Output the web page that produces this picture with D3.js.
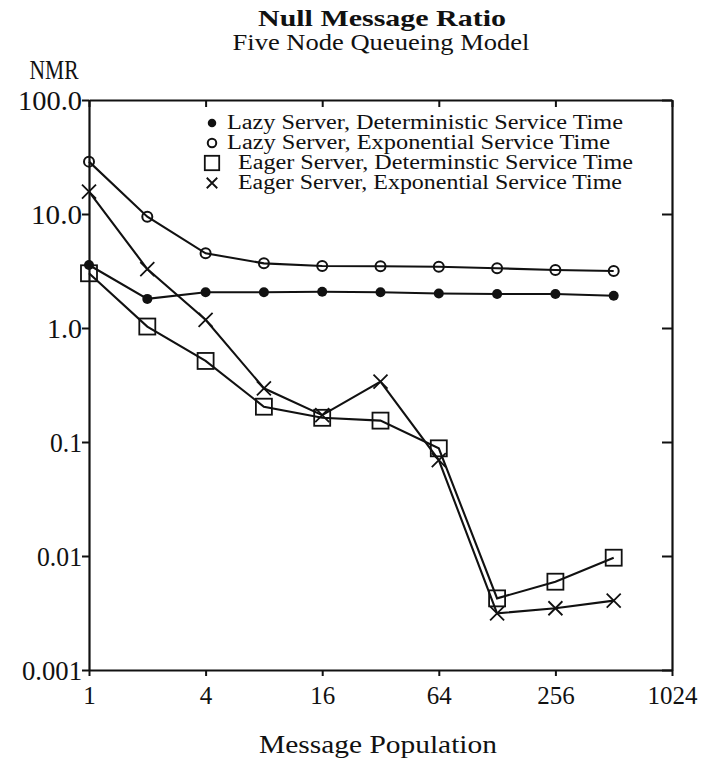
<!DOCTYPE html>
<html>
<head>
<meta charset="utf-8">
<script src="https://cdn.jsdelivr.net/npm/d3@7"></script>
<style>
  html, body { margin: 0; padding: 0; background: #fff; }
  svg { display: block; }
  text { font-family: "Liberation Serif", "Times New Roman", Times, serif; fill: #111; }
</style>
</head>
<body>
<svg id="chart" width="701" height="766"></svg>
<script>
// Message population (x) and null message ratio for each server / service-time combination
const population = [1, 2, 4, 8, 16, 32, 64, 128, 256, 512];
const lazyDeterministic = [3.57, 1.80, 2.06, 2.06, 2.08, 2.06, 2.01, 1.99, 1.99, 1.92];
const lazyExponential = [28.8, 9.47, 4.52, 3.69, 3.50, 3.48, 3.45, 3.34, 3.23, 3.16];
const eagerDeterministic = [3.02, 1.03, 0.514, 0.204, 0.163, 0.154, 0.088, 0.00425, 0.00595, 0.00966];
const eagerExponential = [15.7, 3.29, 1.18, 0.296, 0.172, 0.338, 0.0695, 0.00314, 0.00348, 0.00406];

const xTickValues = [1, 4, 16, 64, 256, 1024];
const xTickLabels = ["1", "4", "16", "64", "256", "1024"];
const yTickValues = [0.001, 0.01, 0.1, 1, 10, 100];
const yTickLabels = ["0.001", "0.01", "0.1", "1.0", "10.0", "100.0"];

const seriesNames = [
  "Lazy Server, Deterministic Service Time",
  "Lazy Server, Exponential Service Time",
  "Eager Server, Determinstic Service Time",
  "Eager Server, Exponential Service Time"
];
const seriesValues = [lazyDeterministic, lazyExponential, eagerDeterministic, eagerExponential];
const seriesMarkers = ["dot", "circle", "square", "cross"];

const svg = d3.select("#chart");
const plotLeft = 89, plotRight = 672, plotTop = 100, plotBottom = 670;

const x = d3.scaleLog().base(2).domain([1, 1024]).range([plotLeft, plotRight]);
const y = d3.scaleLog().domain([0.001, 100]).range([plotBottom, plotTop]);

// Stretch a text element horizontally to a given width
function fit(sel, w) {
  return sel.attr("textLength", w).attr("lengthAdjust", "spacingAndGlyphs");
}

// Titles
fit(svg.append("text").attr("x", 382).attr("y", 26).attr("text-anchor", "middle")
  .attr("font-size", 24).attr("font-weight", "bold").text("Null Message Ratio"), 248);
fit(svg.append("text").attr("x", 381).attr("y", 50).attr("text-anchor", "middle")
  .attr("font-size", 24).text("Five Node Queueing Model"), 297);
fit(svg.append("text").attr("x", 54).attr("y", 79).attr("text-anchor", "middle")
  .attr("font-size", 28).text("NMR"), 49);
fit(svg.append("text").attr("x", 378).attr("y", 753).attr("text-anchor", "middle")
  .attr("font-size", 25).text("Message Population"), 238);

// Axes: labelled bottom/left with outward ticks, mirrored top/right with inward ticks
function styleAxis(g) {
  g.attr("font-size", null).attr("font-family", null);
  g.selectAll("path.domain").attr("stroke", "#111").attr("stroke-width", 2.2);
  g.selectAll(".tick line").attr("stroke", "#111").attr("stroke-width", 2);
  g.selectAll(".tick text").style("font-size", "25px")
    .style("font-family", '"Liberation Serif", "Times New Roman", Times, serif').attr("fill", "#111");
}

svg.append("g").attr("transform", `translate(0,${plotBottom})`)
  .call(d3.axisBottom(x).tickValues(xTickValues).tickSizeInner(6).tickSizeOuter(0).tickPadding(10)
    .tickFormat((d, i) => xTickLabels[i]))
  .call(styleAxis);

// Widths of the y tick labels
const yLabelWidths = [60, 45, 32, 35, 51, 64];
svg.append("g").attr("transform", `translate(${plotLeft},0)`)
  .call(d3.axisLeft(y).tickValues(yTickValues).tickSizeInner(7).tickSizeOuter(0).tickPadding(0)
    .tickFormat((d, i) => yTickLabels[i]))
  .call(styleAxis)
  .selectAll(".tick text").attr("dy", "0.36em").style("font-size", "27px")
  .each(function (d, i) { fit(d3.select(this), yLabelWidths[i]); });

svg.append("g").attr("transform", `translate(0,${plotTop})`)
  .call(d3.axisTop(x).tickValues(xTickValues).tickSizeInner(-7).tickSizeOuter(0).tickFormat(""))
  .call(styleAxis);

svg.append("g").attr("transform", `translate(${plotRight},0)`)
  .call(d3.axisRight(y).tickValues(yTickValues).tickSizeInner(-10).tickSizeOuter(0).tickFormat(""))
  .call(styleAxis);

// Marker drawing
function drawMarker(g, type, cx, cy, s) {
  if (type === "dot") {
    g.append("circle").attr("cx", cx).attr("cy", cy).attr("r", 5 * s).attr("fill", "#111");
  } else if (type === "circle") {
    g.append("circle").attr("cx", cx).attr("cy", cy).attr("r", 5 * s)
      .attr("fill", "none").attr("stroke", "#111").attr("stroke-width", 2);
  } else if (type === "square") {
    const h = 8 * s;
    g.append("rect").attr("x", cx - h).attr("y", cy - h).attr("width", 2 * h).attr("height", 2 * h)
      .attr("fill", "none").attr("stroke", "#111").attr("stroke-width", 1.8);
  } else if (type === "cross") {
    const h = 7 * s;
    g.append("path").attr("d", `M${cx - h},${cy - h}L${cx + h},${cy + h}M${cx - h},${cy + h}L${cx + h},${cy - h}`)
      .attr("stroke", "#111").attr("stroke-width", 1.8).attr("fill", "none");
  }
}

const line = d3.line().x(d => x(d[0])).y(d => y(d[1]));
const plot = svg.append("g");

seriesValues.forEach((vals) => {
  const pts = population.map((p, i) => [p, vals[i]]);
  plot.append("path").datum(pts).attr("d", line)
    .attr("fill", "none").attr("stroke", "#111").attr("stroke-width", 2.1);
});
seriesValues.forEach((vals, si) => {
  population.forEach((p, i) => drawMarker(plot, seriesMarkers[si], x(p), y(vals[i]), 1));
});

// Legend
const legend = svg.append("g");
const legendRows = [123, 143, 163, 183];
const legendTextX = [227, 227, 238, 238];
const legendTextW = [396, 383, 395, 384];
const legendScale = [0.85, 0.85, 0.9, 0.75];
seriesNames.forEach((name, i) => {
  drawMarker(legend, seriesMarkers[i], 212, legendRows[i], legendScale[i]);
  fit(legend.append("text").attr("x", legendTextX[i]).attr("y", legendRows[i] + 6)
    .attr("font-size", 20).text(name), legendTextW[i]);
});
</script>
</body>
</html>
